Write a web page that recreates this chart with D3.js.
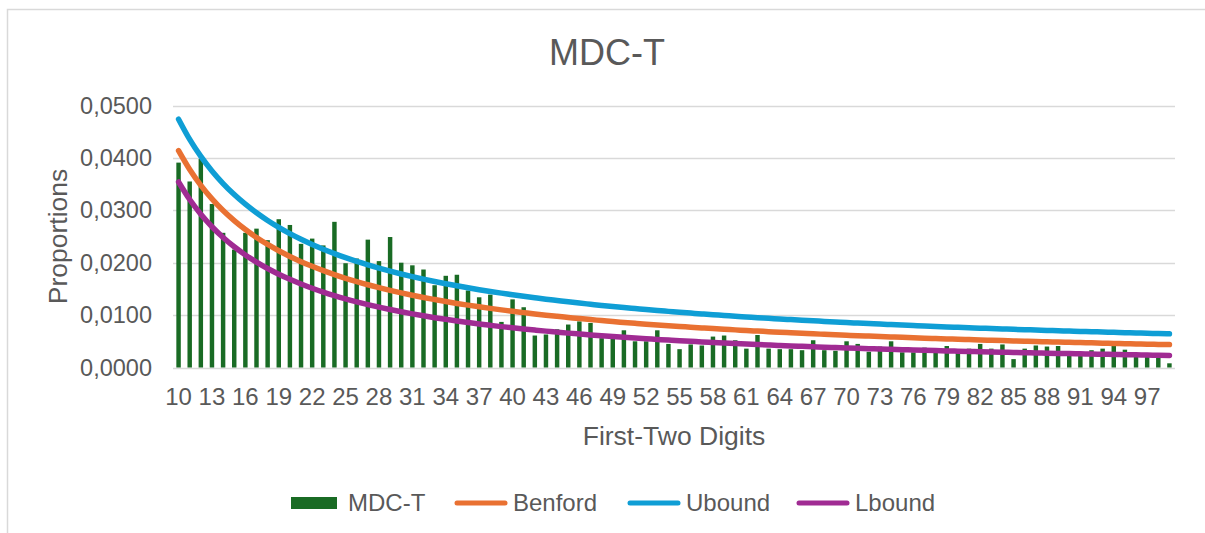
<!DOCTYPE html>
<html>
<head>
<meta charset="utf-8">
<script src="https://cdn.jsdelivr.net/npm/d3@7/dist/d3.min.js"></script>
<style>
  html, body { margin: 0; padding: 0; background: #ffffff; }
  svg { display: block; }
  text { font-family: "Liberation Sans", Arial, sans-serif; fill: #595959; }
</style>
</head>
<body>
<svg id="chart" width="1205" height="533"></svg>
<script>
// First-two-digit values 10..99
const digits = d3.range(10, 100);

// Observed proportions (MDC-T)
const mdcT = [
  0.0391, 0.0355, 0.0398, 0.0312, 0.0257, 0.0225, 0.0257, 0.0265, 0.0243, 0.0283,
  0.0272, 0.0236, 0.0246, 0.0233, 0.0278, 0.0199, 0.0208, 0.0244, 0.0203, 0.0249,
  0.0200, 0.0195, 0.0187, 0.0157, 0.0175, 0.0177, 0.0147, 0.0134, 0.0139, 0.0087,
  0.0130, 0.0115, 0.0061, 0.0063, 0.0073, 0.0082, 0.0088, 0.0085, 0.0056, 0.0055,
  0.0071, 0.0050, 0.0050, 0.0071, 0.0045, 0.0035, 0.0044, 0.0042, 0.0059, 0.0061,
  0.0052, 0.0036, 0.0062, 0.0036, 0.0035, 0.0035, 0.0033, 0.0052, 0.0033, 0.0032,
  0.0050, 0.0045, 0.0030, 0.0040, 0.0050, 0.0029, 0.0029, 0.0038, 0.0028, 0.0041,
  0.0028, 0.0036, 0.0045, 0.0036, 0.0044, 0.0016, 0.0036, 0.0042, 0.0040, 0.0041,
  0.0022, 0.0022, 0.0033, 0.0036, 0.0049, 0.0034, 0.0025, 0.0022, 0.0022, 0.0008
];

// Expected Benford proportions
const benford = [
  0.04139, 0.03779, 0.03476, 0.03218, 0.02996, 0.02803, 0.02633, 0.02482, 0.02348, 0.02228,
  0.02119, 0.02020, 0.01931, 0.01848, 0.01773, 0.01703, 0.01639, 0.01579, 0.01524, 0.01472,
  0.01424, 0.01379, 0.01336, 0.01297, 0.01259, 0.01223, 0.01190, 0.01158, 0.01128, 0.01100,
  0.01072, 0.01047, 0.01022, 0.00998, 0.00976, 0.00955, 0.00934, 0.00914, 0.00896, 0.00877,
  0.00860, 0.00843, 0.00827, 0.00812, 0.00797, 0.00783, 0.00769, 0.00755, 0.00742, 0.00730,
  0.00718, 0.00706, 0.00695, 0.00684, 0.00673, 0.00663, 0.00653, 0.00643, 0.00634, 0.00625,
  0.00616, 0.00607, 0.00599, 0.00591, 0.00583, 0.00575, 0.00568, 0.00560, 0.00553, 0.00546,
  0.00540, 0.00533, 0.00526, 0.00520, 0.00514, 0.00508, 0.00502, 0.00496, 0.00491, 0.00485,
  0.00480, 0.00475, 0.00470, 0.00465, 0.00460, 0.00455, 0.00450, 0.00445, 0.00441, 0.00437
];

// Upper bound
const ubound = [
  0.04739, 0.04353, 0.04028, 0.03751, 0.03511, 0.03301, 0.03117, 0.02953, 0.02806, 0.02675,
  0.02555, 0.02447, 0.02348, 0.02257, 0.02174, 0.02097, 0.02025, 0.01959, 0.01897, 0.01839,
  0.01785, 0.01734, 0.01687, 0.01642, 0.01599, 0.01559, 0.01521, 0.01485, 0.01451, 0.01419,
  0.01388, 0.01358, 0.01330, 0.01303, 0.01278, 0.01253, 0.01229, 0.01207, 0.01185, 0.01164,
  0.01144, 0.01125, 0.01106, 0.01088, 0.01071, 0.01054, 0.01038, 0.01022, 0.01007, 0.00993,
  0.00978, 0.00965, 0.00951, 0.00939, 0.00926, 0.00914, 0.00902, 0.00891, 0.00880, 0.00869,
  0.00858, 0.00848, 0.00838, 0.00828, 0.00819, 0.00810, 0.00801, 0.00792, 0.00784, 0.00775,
  0.00767, 0.00759, 0.00751, 0.00744, 0.00736, 0.00729, 0.00722, 0.00715, 0.00708, 0.00702,
  0.00695, 0.00689, 0.00683, 0.00677, 0.00671, 0.00665, 0.00659, 0.00653, 0.00648, 0.00642
];

// Lower bound
const lbound = [
  0.03540, 0.03205, 0.02924, 0.02686, 0.02482, 0.02304, 0.02149, 0.02012, 0.01890, 0.01781,
  0.01683, 0.01594, 0.01513, 0.01439, 0.01372, 0.01310, 0.01253, 0.01200, 0.01151, 0.01106,
  0.01063, 0.01023, 0.00986, 0.00951, 0.00919, 0.00888, 0.00859, 0.00831, 0.00805, 0.00780,
  0.00757, 0.00735, 0.00714, 0.00694, 0.00675, 0.00656, 0.00639, 0.00622, 0.00606, 0.00591,
  0.00576, 0.00562, 0.00549, 0.00536, 0.00523, 0.00511, 0.00500, 0.00488, 0.00478, 0.00467,
  0.00457, 0.00448, 0.00438, 0.00429, 0.00421, 0.00412, 0.00404, 0.00396, 0.00388, 0.00381,
  0.00374, 0.00367, 0.00360, 0.00353, 0.00347, 0.00341, 0.00335, 0.00329, 0.00323, 0.00317,
  0.00312, 0.00307, 0.00302, 0.00297, 0.00292, 0.00287, 0.00282, 0.00278, 0.00273, 0.00269,
  0.00265, 0.00261, 0.00256, 0.00253, 0.00249, 0.00245, 0.00241, 0.00238, 0.00234, 0.00231
];

// Axis ticks
const yTicks = [0, 0.01, 0.02, 0.03, 0.04, 0.05];
const xTickLabels = digits.filter((d, i) => i % 3 === 0);

const colors = { bars: "#196B24", benford: "#E97132", ubound: "#0F9ED5", lbound: "#A02B93" };

const svg = d3.select("#chart");
const W = 1205, H = 533;
const plot = { left: 173, right: 1175, top: 105.5, bottom: 367.5 };

// chart frame
svg.append("rect")
  .attr("x", 7.5).attr("y", 9.5)
  .attr("width", W + 20).attr("height", H + 20)
  .attr("fill", "#ffffff").attr("stroke", "#d9d9d9").attr("stroke-width", 1.5);

const x = d3.scaleBand()
  .domain(digits)
  .range([plot.left, plot.right])
  .paddingInner(0.6)
  .paddingOuter(0.3);

const y = d3.scaleLinear().domain([0, 0.05]).range([plot.bottom, plot.top]);

const locale = d3.formatLocale({ decimal: ",", thousands: ".", grouping: [3], currency: ["", ""] });
const fmt = locale.format(".4f");

// gridlines
svg.append("g")
  .selectAll("line")
  .data(yTicks)
  .join("line")
  .attr("x1", plot.left).attr("x2", plot.right)
  .attr("y1", d => Math.round(y(d)) + 0.5).attr("y2", d => Math.round(y(d)) + 0.5)
  .attr("stroke", "#d9d9d9").attr("stroke-width", 1.5);

// y axis labels
const yAxis = svg.append("g")
  .attr("transform", `translate(${plot.left - 12},0)`)
  .call(d3.axisLeft(y).tickValues(yTicks).tickFormat(fmt).tickSize(0).tickPadding(9));
yAxis.select(".domain").remove();
yAxis.selectAll("text")
  .style("font-size", "23.5px")
  .style("fill", "#595959")
  .attr("font-family", null);

// x axis labels
const xAxis = svg.append("g")
  .attr("transform", `translate(0,${plot.bottom})`)
  .call(d3.axisBottom(x).tickValues(xTickLabels).tickSize(0).tickPadding(20));
xAxis.select(".domain").remove();
xAxis.selectAll("text")
  .style("font-size", "24px")
  .style("fill", "#595959")
  .attr("font-family", null);

// bars
svg.append("g")
  .selectAll("rect")
  .data(digits.map((d, i) => ({ d, v: mdcT[i] })))
  .join("rect")
  .attr("x", p => x(p.d))
  .attr("width", x.bandwidth())
  .attr("y", p => y(p.v))
  .attr("height", p => y(0) - y(p.v))
  .attr("fill", colors.bars);

// lines
const cx = d => x(d) + x.bandwidth() / 2;
const lineGen = d3.line()
  .x(p => cx(p.d))
  .y(p => y(p.v))
  .curve(d3.curveMonotoneX);

const series = [
  { name: "Benford", values: benford, color: colors.benford },
  { name: "Ubound", values: ubound, color: colors.ubound },
  { name: "Lbound", values: lbound, color: colors.lbound }
];

svg.append("g")
  .selectAll("path")
  .data(series)
  .join("path")
  .attr("d", s => lineGen(digits.map((d, i) => ({ d, v: s.values[i] }))))
  .attr("fill", "none")
  .attr("stroke", s => s.color)
  .attr("stroke-width", 5.5)
  .attr("stroke-linecap", "round")
  .attr("stroke-linejoin", "round");

// title
svg.append("text")
  .attr("x", 607).attr("y", 65)
  .attr("text-anchor", "middle")
  .style("font-size", "36px")
  .text("MDC-T");

// axis titles
svg.append("text")
  .attr("x", (plot.left + plot.right) / 2).attr("y", 445)
  .attr("text-anchor", "middle")
  .style("font-size", "26.5px")
  .text("First-Two Digits");

svg.append("text")
  .attr("transform", `translate(67,${(plot.top + plot.bottom) / 2}) rotate(-90)`)
  .attr("text-anchor", "middle")
  .style("font-size", "26.5px")
  .text("Proportions");

// legend
const legend = [
  { name: "MDC-T", color: colors.bars, type: "bar", x: 291 },
  { name: "Benford", color: colors.benford, type: "line", x: 455 },
  { name: "Ubound", color: colors.ubound, type: "line", x: 628 },
  { name: "Lbound", color: colors.lbound, type: "line", x: 797 }
];
const lg = svg.append("g").selectAll("g").data(legend).join("g")
  .attr("transform", l => `translate(${l.x},503)`);
lg.filter(l => l.type === "bar").append("rect")
  .attr("x", 0).attr("y", -6).attr("width", 46).attr("height", 12)
  .attr("fill", l => l.color);
lg.filter(l => l.type === "line").append("line")
  .attr("x1", 2).attr("x2", 50).attr("y1", 0).attr("y2", 0)
  .attr("stroke", l => l.color).attr("stroke-width", 5).attr("stroke-linecap", "round");
lg.append("text")
  .attr("x", l => l.type === "bar" ? 57 : 58)
  .attr("y", 0).attr("dy", "0.35em")
  .style("font-size", "24px")
  .text(l => l.name);
</script>
</body>
</html>
